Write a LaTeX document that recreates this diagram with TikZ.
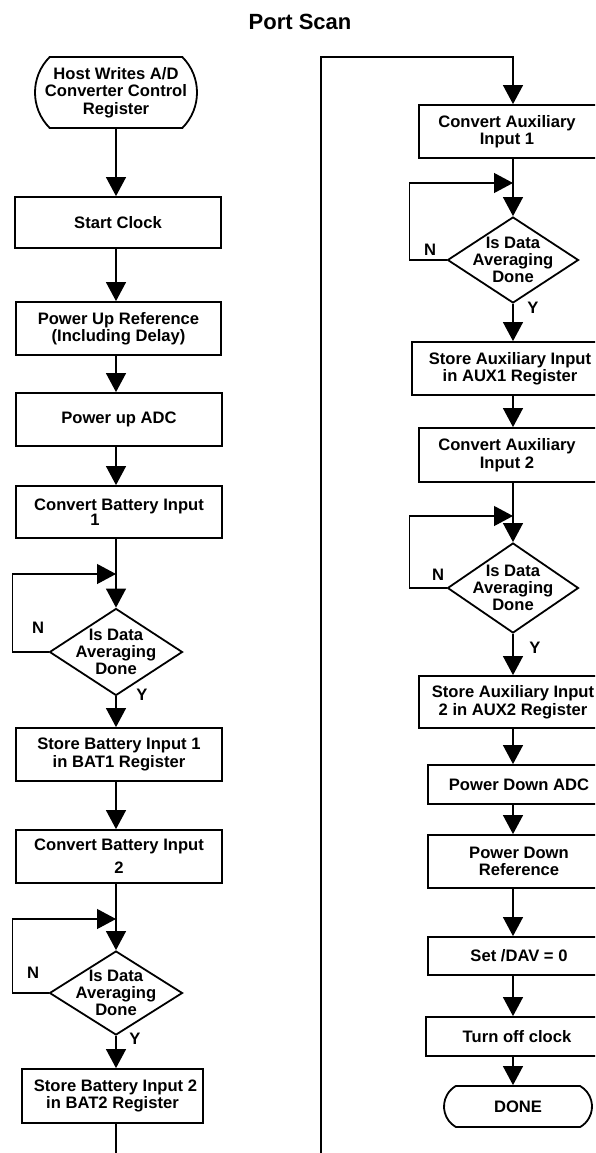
\documentclass[tikz,border=0pt]{standalone}
\usepackage{fontspec}
\setmainfont{Liberation Sans}
\usetikzlibrary{shapes.geometric,shapes.misc,arrows.meta}
\begin{document}
\begin{tikzpicture}[x=1pt,y=-1pt,
  every node/.style={font=\fontsize{16.6}{17.5}\selectfont\bfseries, inner sep=0pt, align=center},
  procbox/.style={draw, line width=1.8pt, rectangle},
  termbox/.style={draw, line width=1.8pt, rounded rectangle},
  decbox/.style={draw, line width=1.8pt, diamond},
  dtext/.style={font=\fontsize{16.6}{17}\selectfont\bfseries, align=center},
  conn/.style={line width=1.2pt},
  arr/.style={conn, -{Triangle[length=19pt,width=20pt]}},
]
\useasboundingbox (0,0) rectangle (595,1153);
\clip (0,0) rectangle (595,1153);

\coordinate (L) at (116,0);
\coordinate (R) at (513,0);

\node (title) [font=\fontsize{22}{25}\selectfont\bfseries] at (300,22) {Port Scan};

% left column
\node[termbox, rounded rectangle arc length=90, minimum width=162, minimum height=71] (start) at (116,92.5) {Host Writes A/D\\Converter Control\\Register};
\node[procbox, minimum width=206, minimum height=51] (clock) at (118,222.5) {Start Clock};
\node[procbox, minimum width=205, minimum height=53] (pref) at (118.5,328.5) {Power Up Reference\\(Including Delay)};
\node[procbox, minimum width=206, minimum height=53] (padc) at (119,419.5) {Power up ADC};
\node[procbox, minimum width=206, minimum height=52] (cbat1) at (119,512) {Convert Battery Input\\[-2.5pt]\hspace*{-48pt}1};
\node[decbox, minimum width=133, minimum height=87, label={[dtext, name=d1t]center:Is Data\\Averaging\\Done}] (d1) at (116,652) {};
\node[procbox, minimum width=206, minimum height=53] (sbat1) at (119,754.5) {Store Battery Input 1\\in BAT1 Register};
\node[procbox, minimum width=206, minimum height=53] (cbat2) at (119,856.5) {Convert Battery Input\\[5.5pt]2};
\node[decbox, minimum width=133, minimum height=84, label={[dtext, name=d2t]center:Is Data\\Averaging\\Done}] (d2) at (116,993) {};
\node[procbox, minimum width=181, minimum height=54] (sbat2) at (112.5,1096) {\hspace*{6pt}Store Battery Input 2\\in BAT2 Register};

\node (n1) at (38,628) {N};
\node (y1) at (142,695) {Y};
\node (n2) at (33,973) {N};
\node (y2) at (135,1039) {Y};

% right column
\node[procbox, minimum width=186, minimum height=53] (caux1) at (512,131.5) {Convert Auxiliary\hspace*{10pt}\\Input 1\hspace*{10pt}};
\node[decbox, minimum width=131, minimum height=86, label={[dtext, name=d3t]center:Is Data\\Averaging\\Done}] (d3) at (513,260) {};
\node[procbox, minimum width=196, minimum height=53] (saux1) at (510,368.5) {Store Auxiliary Input\\in AUX1 Register};
\node[procbox, minimum width=186, minimum height=54] (caux2) at (512,455) {Convert Auxiliary\hspace*{10pt}\\Input 2\hspace*{10pt}};
\node[decbox, minimum width=131, minimum height=90, label={[dtext, name=d4t]center:Is Data\\Averaging\\Done}] (d4) at (513,588) {};
\node[procbox, minimum width=188, minimum height=52] (saux2) at (513,702) {Store Auxiliary Input\\2 in AUX2 Register};
\node[procbox, minimum width=182, minimum height=39] (pdadc) at (519,784.5) {Power Down ADC};
\node[procbox, minimum width=182, minimum height=53] (pdref) at (519,861.5) {Power Down\\Reference};
\node[procbox, minimum width=182, minimum height=38] (setdav) at (519,956) {Set /DAV = 0};
\node[procbox, minimum width=182, minimum height=39] (tclk) at (517,1036.5) {Turn off clock};
\node[termbox, rounded rectangle arc length=120, minimum width=148, minimum height=41] (done) at (518,1106.5) {DONE};

\node (n3) at (430,250) {N};
\node (y3) at (533,308) {Y};
\node (n4) at (438,575) {N};
\node (y4) at (535,648) {Y};

% loop coordinates
\coordinate (lp1) at (116,574);
\coordinate (lp2) at (116,919);
\coordinate (lp3) at (513,183);
\coordinate (lp4) at (513,516);
\coordinate (exitL) at (116,1153);
\coordinate (entryR) at (321,1153);
\coordinate (topR) at (513,57);

% left connectors
\draw[arr] (start.south) -- (clock.north -| L);
\draw[arr] (clock.south -| L) -- (pref.north -| L);
\draw[arr] (pref.south -| L) -- (padc.north -| L);
\draw[arr] (padc.south -| L) -- (cbat1.north -| L);
\draw[arr] (cbat1.south -| L) -- (d1.north);
\draw[arr] (d1.west) -- ++(-36,0) |- (lp1);
\draw[arr] (d1.south) -- (sbat1.north -| L);
\draw[arr] (sbat1.south -| L) -- (cbat2.north -| L);
\draw[arr] (cbat2.south -| L) -- (d2.north);
\draw[arr] (d2.west) -- ++(-36,0) |- (lp2);
\draw[arr] (d2.south) -- (sbat2.north -| L);
\draw[conn] (sbat2.south -| L) -- (exitL);

% right connectors
\draw[arr] (entryR) |- (topR) -- (caux1.north -| R);
\draw[arr] (caux1.south -| R) -- (d3.north);
\draw[arr] (d3.west) -- ++(-37,0) |- (lp3);
\draw[arr] (d3.south) -- (saux1.north -| R);
\draw[arr] (saux1.south -| R) -- (caux2.north -| R);
\draw[arr] (caux2.south -| R) -- (d4.north);
\draw[arr] (d4.west) -- ++(-37,0) |- (lp4);
\draw[arr] (d4.south) -- (saux2.north -| R);
\draw[arr] (saux2.south -| R) -- (pdadc.north -| R);
\draw[arr] (pdadc.south -| R) -- (pdref.north -| R);
\draw[arr] (pdref.south -| R) -- (setdav.north -| R);
\draw[arr] (setdav.south -| R) -- (tclk.north -| R);
\draw[arr] (tclk.south -| R) -- (done.north -| R);
\end{tikzpicture}
\end{document}
